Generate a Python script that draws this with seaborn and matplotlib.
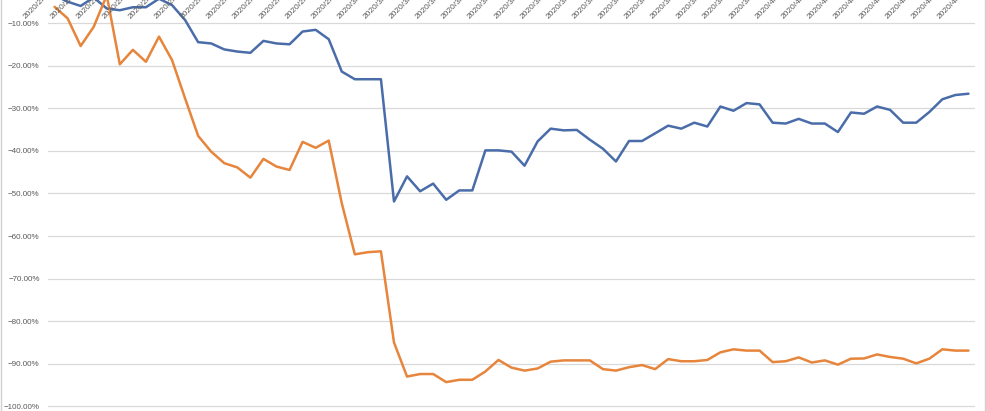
import pandas as pd
import matplotlib.pyplot as plt
import matplotlib.dates as mdates
import seaborn as sns
from matplotlib.ticker import PercentFormatter, MultipleLocator
from matplotlib.lines import Line2D

# daily dates, labels shown every other day
dates = pd.date_range("2020-02-06", "2020-04-16", freq="D")

# values in percent
blue_pct = [
    -3.5, -5.0, -6.0, -4.0, -6.6, -7.0, -6.3, -6.3, -4.3, -5.8,
    -9.3, -14.5, -14.8, -16.2, -16.7, -17.0, -14.2, -14.8, -15.0, -12.0,
    -11.6, -13.8, -21.4, -23.2, -23.2, -23.2, -51.9, -46.0, -49.5, -47.7,
    -51.5, -49.3, -49.3, -39.9, -39.9, -40.2, -43.5, -37.8, -34.8, -35.2,
    -35.1, -37.4, -39.5, -42.5, -37.7, -37.7, -35.9, -34.1, -34.8, -33.4,
    -34.3, -29.6, -30.6, -28.8, -29.1, -33.4, -33.6, -32.5, -33.6, -33.6,
    -35.6, -31.0, -31.3, -29.6, -30.4, -33.4, -33.4, -30.9, -27.9, -26.9,
    -26.6,
]
orange_pct = [
    -6.2, -8.9, -15.4, -10.9, -3.5, -19.7, -16.3, -19.1, -13.2, -18.7,
    -27.7, -36.5, -40.2, -42.9, -43.9, -46.3, -41.9, -43.7, -44.5, -37.9,
    -39.3, -37.6, -52.3, -64.3, -63.8, -63.6, -85.0, -93.0, -92.4, -92.4,
    -94.3, -93.75, -93.75, -91.8, -89.1, -90.9, -91.6, -91.1, -89.5, -89.2,
    -89.2, -89.2, -91.25, -91.6, -90.8, -90.3, -91.25, -88.9, -89.4, -89.4,
    -89.1, -87.3, -86.6, -86.9, -86.9, -89.6, -89.4, -88.5, -89.7, -89.2,
    -90.2, -88.8, -88.75, -87.8, -88.4, -88.8, -89.9, -88.8, -86.6, -86.9,
    -86.9,
]

BLUE = "#4A6DAA"
ORANGE = "#E6853B"
GREY_TXT = "#595959"

sns.set_theme(style="white")
plt.rcParams["font.family"] = ["Liberation Sans", "DejaVu Sans"]

df = pd.DataFrame({
    "date": list(dates) * 2,
    "value": blue_pct + orange_pct,
    "series": ["blue"] * len(dates) + ["orange"] * len(dates),
})

W, H = 987, 411
fig = plt.figure(figsize=(W / 100, H / 100), dpi=100)
ax = fig.add_axes([48 / W, 0, 927 / W, 1])

sns.lineplot(data=df, x="date", y="value", hue="series",
             palette=[BLUE, ORANGE], linewidth=1.8, legend=False, ax=ax)

x0 = mdates.date2num(dates[0].to_pydatetime())
x1 = mdates.date2num(dates[-1].to_pydatetime())
ax.set_xlim(x0 - 0.5, x1 + 0.5)
ax.set_ylim(-101.08, -4.6)

ax.yaxis.set_major_locator(MultipleLocator(10))
ax.yaxis.set_major_formatter(PercentFormatter(decimals=2))
ax.grid(axis="y", color="#D9D9D9", linewidth=0.9)
ax.set_axisbelow(True)
ax.set_xticks([])
ax.set_xlabel("")
ax.set_ylabel("")
sns.despine(ax=ax, left=True, bottom=True)
ax.tick_params(axis="y", length=0, pad=6, labelsize=5.8, labelcolor=GREY_TXT)

# date labels hang from the 0% line, Excel style, cut by the top edge
for d in dates[::2]:
    xd = mdates.date2num(d.to_pydatetime()) - 2.07
    ax.text(xd, -9.4, f"{d.year}/{d.month}/{d.day}", rotation=45,
            rotation_mode="anchor", ha="left", va="bottom",
            fontsize=6.0, color=GREY_TXT, clip_on=False)

# chart border
for xb in (1.5 / W, 985.5 / W):
    fig.add_artist(Line2D([xb, xb], [0, 1], transform=fig.transFigure,
                          color="#D0D0D0", linewidth=1))

fig.savefig("out.png", dpi=100)
